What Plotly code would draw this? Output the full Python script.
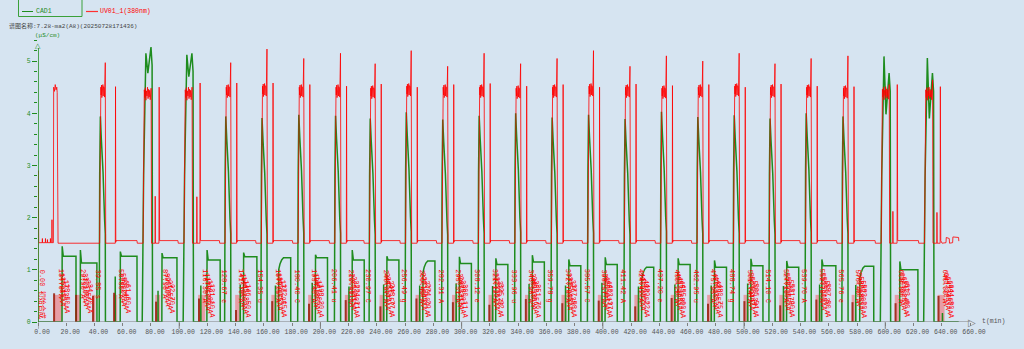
import plotly.graph_objects as go

# ---------------- synthesis cycle table (time in min) ----------------
CYCLE_T = [39.85, 70.30, 99.30, 128.67, 154.35, 180.40, 206.41, 230.97, 256.49,
           282.31, 308.12, 333.96, 359.78, 385.57, 411.42, 437.20, 462.95, 488.74,
           514.10, 539.70, 565.76, 593.00, 623.70]
CYCLE_KIND = ["s", "d", "d", "s", "s", "s", "s", "s", "s", "s", "s", "s",
              "s", "s", "s", "s", "s", "s", "s", "s", "s", "d", "d"]
CYCLE_TAG = ["s", "", "", "e", "u", "C", "u", "C", "g", "A", "e", "u",
             "g", "C", "A", "e", "u", "g", "C", "A", "e", "", ""]
RISE_LAG = 3.5  # min from the cycle mark to the detector front

# CAD1 conductivity (uS/cm)
GREEN_PEAK = [3.94, 5.15, 5.12, 3.94, 3.91, 3.97, 3.95, 3.90, 4.02, 3.88, 3.95, 4.00,
              3.92, 3.97, 3.89, 4.03, 3.93, 3.96, 3.90, 4.00, 3.94, 5.09, 5.06]
DOUBLE_DIP = [4.77, 4.70, 3.98, 3.90]
DOUBLE_SECOND = [5.27, 5.15, 4.77, 4.77]
PEAK_SHAPE_T = [0.0, 0.35, 0.8, 1.5, 2.7, 3.8, 4.3, 4.4]
PEAK_SHAPE_F = [0.0, 0.72, 1.0, 0.89, 0.73, 0.50, 0.43, 0.0]

PLATEAU_ON = [17.0, 29.9, 58.2, 87.7, 119.6, 145.5, 170.35, 196.40, 222.41, 246.97,
              272.49, 298.31, 324.12, 349.96, 375.78, 401.57, 427.42, 453.20, 478.95,
              504.74, 530.10, 555.0, 581.9, 610.2]
PLATEAU_OFF = [26.9, 41.7, 70.1, 98.4, 129.0, 155.0, 178.95, 205.0, 231.01, 255.57,
               281.09, 306.91, 332.72, 358.56, 384.38, 410.17, 436.02, 461.80, 487.55,
               513.34, 538.70, 565.0, 591.8, 623.1]
PLATEAU_LEVEL = [1.26, 1.13, 1.26, 1.23, 1.19, 1.25, 1.23, 1.23, 1.19, 1.19, 1.17, 1.12,
                 1.10, 1.15, 1.08, 1.10, 1.05, 1.10, 1.05, 1.08, 1.05, 1.08, 1.07, 1.00]
PLATEAU_SPIKE = [1.45, 1.38, 1.35, 1.32, 1.38, 1.33, 0, 1.29, 1.38, 1.26, 0, 1.25,
                 1.22, 1.28, 1.20, 1.24, 0, 1.22, 1.18, 1.21, 1.17, 1.20, 0, 1.16]

GREEN_TICK_T = [54.7, 85.0, 115.3, 143.2, 168.15, 194.20, 220.21, 244.77, 270.29,
                296.11, 321.92, 347.76, 373.58, 399.37, 425.22, 451.00, 476.75,
                502.54, 527.90, 553.50, 579.1, 640.5]
GREEN_TICK_V = [0.87, 0.60, 0.70, 0.72, 0.70, 0.75, 0.68, 0.72, 0.70, 0.74, 0.69,
                0.73, 0.70, 0.75, 0.68, 0.72, 0.70, 0.74, 0.69, 0.72, 0.71, 0.17]

# UV01_1 absorbance (same axis)
RED_INIT_T = [0.0, 0.2, 0.5, 3.0, 3.1, 3.2, 5.2, 5.3, 5.4, 6.6, 6.7, 6.8, 8.7, 8.8, 8.9,
              9.8, 9.9, 10.0, 10.9, 11.1, 11.7, 12.2, 12.8, 13.3, 13.6, 14.2]
RED_INIT_V = [0.0, 2.9, 1.52, 1.52, 1.60, 1.52, 1.52, 1.60, 1.52, 1.52, 1.58, 1.52,
              1.52, 1.60, 1.52, 1.52, 1.96, 1.52, 1.52, 4.50, 4.42, 4.55, 4.45, 4.50,
              4.40, 1.51]
RED_BLOCK = [4.30, 4.25, 4.25, 4.30, 4.32, 4.30, 4.30, 4.28, 4.32, 4.30, 4.30, 4.28,
             4.30, 4.32, 4.30, 4.28, 4.30, 4.32, 4.30, 4.30, 4.28, 4.26, 4.25]
RED_SPIKE = [4.97, 4.48, 4.50, 4.97, 5.23, 5.05, 5.15, 4.95, 5.20, 4.90, 5.15, 4.95,
             5.05, 5.20, 4.90, 5.10, 5.00, 5.15, 4.95, 5.05, 5.10, 4.55, 4.64]
RED_RIPPLE = [0.02, 0.20, 0.05, 0.24, 0.00, 0.18, 0.08, 0.25, 0.03, 0.21, 0.06, 0.19,
              0.01, 0.23]
RED_ECHO_T = [54.9, 85.8, 114.8, 140.77, 166.45, 192.50, 218.51, 243.07, 268.59,
              294.41, 320.22, 346.06, 371.88, 397.67, 423.52, 449.30, 475.05, 500.84,
              526.20, 551.80, 577.86, 608.5, 639.0]
RED_ECHO = [4.51, 4.50, 4.58, 4.58, 4.58, 4.55, 4.52, 4.56, 4.50, 4.55, 4.57, 4.52,
            4.55, 4.50, 4.56, 4.53, 4.55, 4.50, 4.56, 4.52, 4.51, 4.55, 4.51]
DOUBLE_MID_T = [83.0, 112.5, 605.4, 636.6]
DOUBLE_MID = [2.41, 2.40, 2.12, 2.10]
RED_TAIL_T = [640.2, 643.0, 643.2, 645.3, 645.5, 647.7, 647.9, 651.9, 652.1]
RED_TAIL_V = [1.51, 1.52, 1.62, 1.60, 1.51, 1.52, 1.63, 1.62, 1.55]

# event marks
BAR_START = [10.8, 26.4, 38.4, 53.3, 83.0, 113.4, 139.6, 165.25, 191.30, 217.31,
             241.87, 267.39, 293.21, 319.02, 344.86, 370.68, 396.47, 422.32, 448.10,
             473.85, 499.64, 525.00, 550.60, 576.2, 606.7, 637.1]
BAR_END = [17.2, 29.9, 40.6, 56.1, 86.5, 118.4, 143.2, 168.85, 194.90, 220.91, 245.47,
           270.99, 296.81, 322.62, 348.46, 374.28, 400.07, 425.92, 451.70, 477.45,
           503.24, 528.60, 554.20, 578.3, 610.2, 642.0]
MARK_V = [0.55, 0.52, 0.50, 0.56, 0.39, 0.45, 0.23, 0.40, 0.35, 0.42, 0.30, 0.45,
          0.38, 0.33, 0.44, 0.36, 0.41, 0.30, 0.46, 0.35, 0.40, 0.32, 0.43, 0.38,
          0.36, 0.50]
CLUSTER_T = [13.7, 29.9, 56.8, 87.9, 116.3, 141.7, 167.35, 193.40, 219.41, 243.97,
             269.49, 295.31, 321.12, 346.96, 372.78, 398.57, 424.42, 450.20, 475.95,
             501.74, 527.10, 552.70, 578.4, 608.8, 640.0]

X_TICKS = list(range(0, 661, 20))
Y_TICKS = [0, 1, 2, 3, 4, 5]

BG = "#d6e4f1"
GREEN = "#1e8c1e"
RED = "#ff0000"
GRAY = "#7f7f7f"
MONO = "Liberation Mono, Noto Sans CJK SC, monospace"

# ---------------- CAD1 polyline ----------------
segments = []
d = 0
for i, T in enumerate(CYCLE_T):
    R = T + RISE_LAG
    if CYCLE_KIND[i] == "s":
        seg = [(R + dt, GREEN_PEAK[i] * f) for dt, f in zip(PEAK_SHAPE_T, PEAK_SHAPE_F)]
    else:
        seg = [(R, 0.0), (R + 1.0, 0.55 * GREEN_PEAK[i]), (R + 2.6, GREEN_PEAK[i]),
               (R + 4.0, DOUBLE_DIP[d]), (R + 6.2, DOUBLE_SECOND[d]),
               (R + 7.0, DOUBLE_SECOND[d] - 0.35), (R + 7.3, 0.0)]
        d += 1
    segments.append(seg)
for t, v in zip(GREEN_TICK_T, GREEN_TICK_V):
    segments.append([(t - 0.05, 0.0), (t, v), (t + 0.08, 0.0)])
for on, off, lev, spk in zip(PLATEAU_ON, PLATEAU_OFF, PLATEAU_LEVEL, PLATEAU_SPIKE):
    if spk > 0:
        seg = [(on, 0.0), (on + 0.12, spk), (on + 0.9, lev), (off, lev), (off + 0.05, 0.0)]
    else:
        seg = [(on, 0.0), (on + 0.15, lev - 0.22), (on + 1.0, lev - 0.12),
               (on + 2.2, lev - 0.04), (on + 3.5, lev), (off, lev), (off + 0.05, 0.0)]
    segments.append(seg)
segments.sort(key=lambda s: s[0][0])
gx, gy = [0.0], [0.0]
for seg in segments:
    for t, v in seg:
        gx.append(t)
        gy.append(v)
gx.append(652.0)
gy.append(0.0)

# ---------------- UV polyline ----------------
rx, ry = list(RED_INIT_T), list(RED_INIT_V)
d = 0
for i, T in enumerate(CYCLE_T):
    R = T + RISE_LAG
    if CYCLE_KIND[i] == "s":
        rx += [R + 0.3, R + 0.8]
        ry += [1.51, RED_BLOCK[i]]
        for k, dv in enumerate(RED_RIPPLE):
            rx.append(R + 0.9 + k * 0.24)
            ry.append(RED_BLOCK[i] + dv)
        rx += [R + 4.3, R + 4.6]
        ry += [RED_SPIKE[i], 1.51]
    else:
        rx += [R + 0.6, R + 1.0]
        ry += [1.51, RED_BLOCK[i]]
        for k, dv in enumerate(RED_RIPPLE):
            rx.append(R + 1.1 + k * 0.38)
            ry.append(RED_BLOCK[i] + dv)
        rx += [R + 6.3, R + 6.6]
        ry += [RED_SPIKE[i], 1.51]
        m = DOUBLE_MID_T[d]
        rx += [m - 0.1, m, m + 0.15]
        ry += [1.51, DOUBLE_MID[d], 1.51]
        d += 1
    e = RED_ECHO_T[i]
    rx += [e - 0.15, e, e + 0.2, e + 0.3]
    ry += [1.51, RED_ECHO[i], 1.53, 1.56]
    if i + 1 < len(CYCLE_T):
        rx += [CYCLE_T[i + 1] - 0.2, CYCLE_T[i + 1]]
        ry += [1.56, 1.51]
rx += RED_TAIL_T
ry += RED_TAIL_V

fig = go.Figure()
fig.add_trace(go.Scatter(x=gx, y=gy, mode="lines", name="CAD1",
                         line=dict(color=GREEN, width=1.5), hoverinfo="skip"))
fig.add_trace(go.Scatter(x=rx, y=ry, mode="lines", name="UV01_1(380nm)",
                         line=dict(color="rgba(255,0,0,0.8)", width=1), hoverinfo="skip"))

shapes = []
for s, e, h in zip(BAR_START, BAR_END, MARK_V):
    shapes.append(dict(type="rect", xref="x", yref="y", x0=s, x1=e, y0=0, y1=0.52,
                       fillcolor="rgba(255,60,60,0.42)", line=dict(width=0), layer="below"))
    shapes.append(dict(type="line", xref="x", yref="y", x0=s + 0.6, x1=s + 0.6, y0=0, y1=h,
                       line=dict(color="rgba(150,30,10,0.85)", width=2)))

# page geometry (pixels) used for the header items
W, L, PW, TOP, PH = 1024, 38, 932, 35, 287


def px(x):
    return (x - L) / PW


def py(y):
    return (TOP + PH - y) / PH


# axes drawn as lines so they sit over the traces
shapes.append(dict(type="line", xref="x", yref="y", x0=0, x1=661, y0=0, y1=0,
                   line=dict(color=GRAY, width=1)))
shapes.append(dict(type="line", xref="x", yref="y", x0=0, x1=0, y0=0, y1=5.25,
                   line=dict(color=GREEN, width=1.5)))
for t in range(0, 661, 100):
    shapes.append(dict(type="line", xref="x", yref="paper", x0=t, x1=t, y0=0, y1=-0.024,
                       line=dict(color=GRAY, width=1)))

# legend box
shapes.append(dict(type="rect", xref="paper", yref="paper", x0=px(18.5), x1=px(82),
                   y0=py(16.5), y1=py(-1), line=dict(color="#3aa03a", width=1)))
shapes.append(dict(type="line", xref="paper", yref="paper", x0=px(22), x1=px(33),
                   y0=py(11.5), y1=py(11.5), line=dict(color=GREEN, width=1)))
shapes.append(dict(type="line", xref="paper", yref="paper", x0=px(86), x1=px(98),
                   y0=py(11.5), y1=py(11.5), line=dict(color="#ff3030", width=1.2)))

ann = []
ann.append(dict(xref="paper", yref="paper", x=px(33.5), y=py(11.5), text="CAD1",
                showarrow=False, xanchor="left", yanchor="middle",
                font=dict(family=MONO, size=6.5, color=GREEN)))
ann.append(dict(xref="paper", yref="paper", x=px(98), y=py(11.5), text="UV01_1(380nm)",
                showarrow=False, xanchor="left", yanchor="middle",
                font=dict(family=MONO, size=6.5, color=RED)))
ann.append(dict(xref="paper", yref="paper", x=px(7), y=py(26.5),
                text="谱图名称:7.28-ma2(A8)(20250728171436)", showarrow=False,
                xanchor="left", yanchor="middle",
                font=dict(family=MONO, size=6, color="#444444")))
ann.append(dict(xref="paper", yref="paper", x=px(33), y=py(35.5), text="(μS/cm)",
                showarrow=False, xanchor="left", yanchor="middle",
                font=dict(family=MONO, size=6, color=GREEN)))
ann.append(dict(xref="paper", yref="paper", x=px(38), y=py(45.5), text="△",
                showarrow=False, xanchor="center", yanchor="middle",
                font=dict(family="DejaVu Sans", size=7, color=GREEN)))
ann.append(dict(xref="paper", yref="paper", x=px(972), y=py(322.5), text="▷",
                showarrow=False, xanchor="center", yanchor="middle",
                font=dict(family="DejaVu Sans", size=10, color=GRAY)))
ann.append(dict(xref="paper", yref="paper", x=px(980), y=py(321), text="t(min)",
                showarrow=False, xanchor="left", yanchor="middle",
                font=dict(family=MONO, size=6.5, color="#555555")))

# rotated event labels
ann.append(dict(xref="x", yref="y", x=0, y=1.05, text="0.00 初始合成", showarrow=False,
                textangle=90, xanchor="center", yanchor="top", xshift=4,
                font=dict(family=MONO, size=7, color=RED)))
for T, tag in zip(CYCLE_T, CYCLE_TAG):
    if tag:
        ann.append(dict(xref="x", yref="y", x=T, y=1.05, text=f"{T:.2f} {tag}",
                        showarrow=False, textangle=90, xanchor="center", yanchor="top",
                        xshift=4, font=dict(family=MONO, size=7, color=RED)))
for c in CLUSTER_T:
    for k in range(5):
        t = c + k * 1.2
        ann.append(dict(xref="x", yref="y", x=t, y=1.05 - 0.07 * k, text=f"{t:.2f} A",
                        showarrow=False, textangle=90, xanchor="center", yanchor="top",
                        xshift=3, font=dict(family=MONO, size=7, color=RED)))

fig.update_layout(
    width=W, height=349,
    margin=dict(l=L, r=W - L - PW, t=TOP, b=349 - TOP - PH, pad=0),
    paper_bgcolor=BG, plot_bgcolor=BG,
    showlegend=False,
    shapes=shapes, annotations=ann,
    xaxis=dict(range=[0, 660], showgrid=False, zeroline=False, showline=False,
               tickvals=X_TICKS, tickformat=".2f", ticks="outside", ticklen=3,
               tickcolor=GRAY, ticklabelshift=4,
               tickfont=dict(family=MONO, size=6.5, color="#555555"), automargin=False),
    yaxis=dict(range=[0, 5.5], showgrid=False, zeroline=False, showline=False,
               tickvals=Y_TICKS, ticks="outside", ticklen=5, tickcolor=GREEN,
               tickfont=dict(family=MONO, size=6.5, color=GREEN), automargin=False,
               minor=dict(dtick=0.2, ticks="outside", ticklen=3, tickcolor=GREEN)),
)

fig.write_html("out.html")
